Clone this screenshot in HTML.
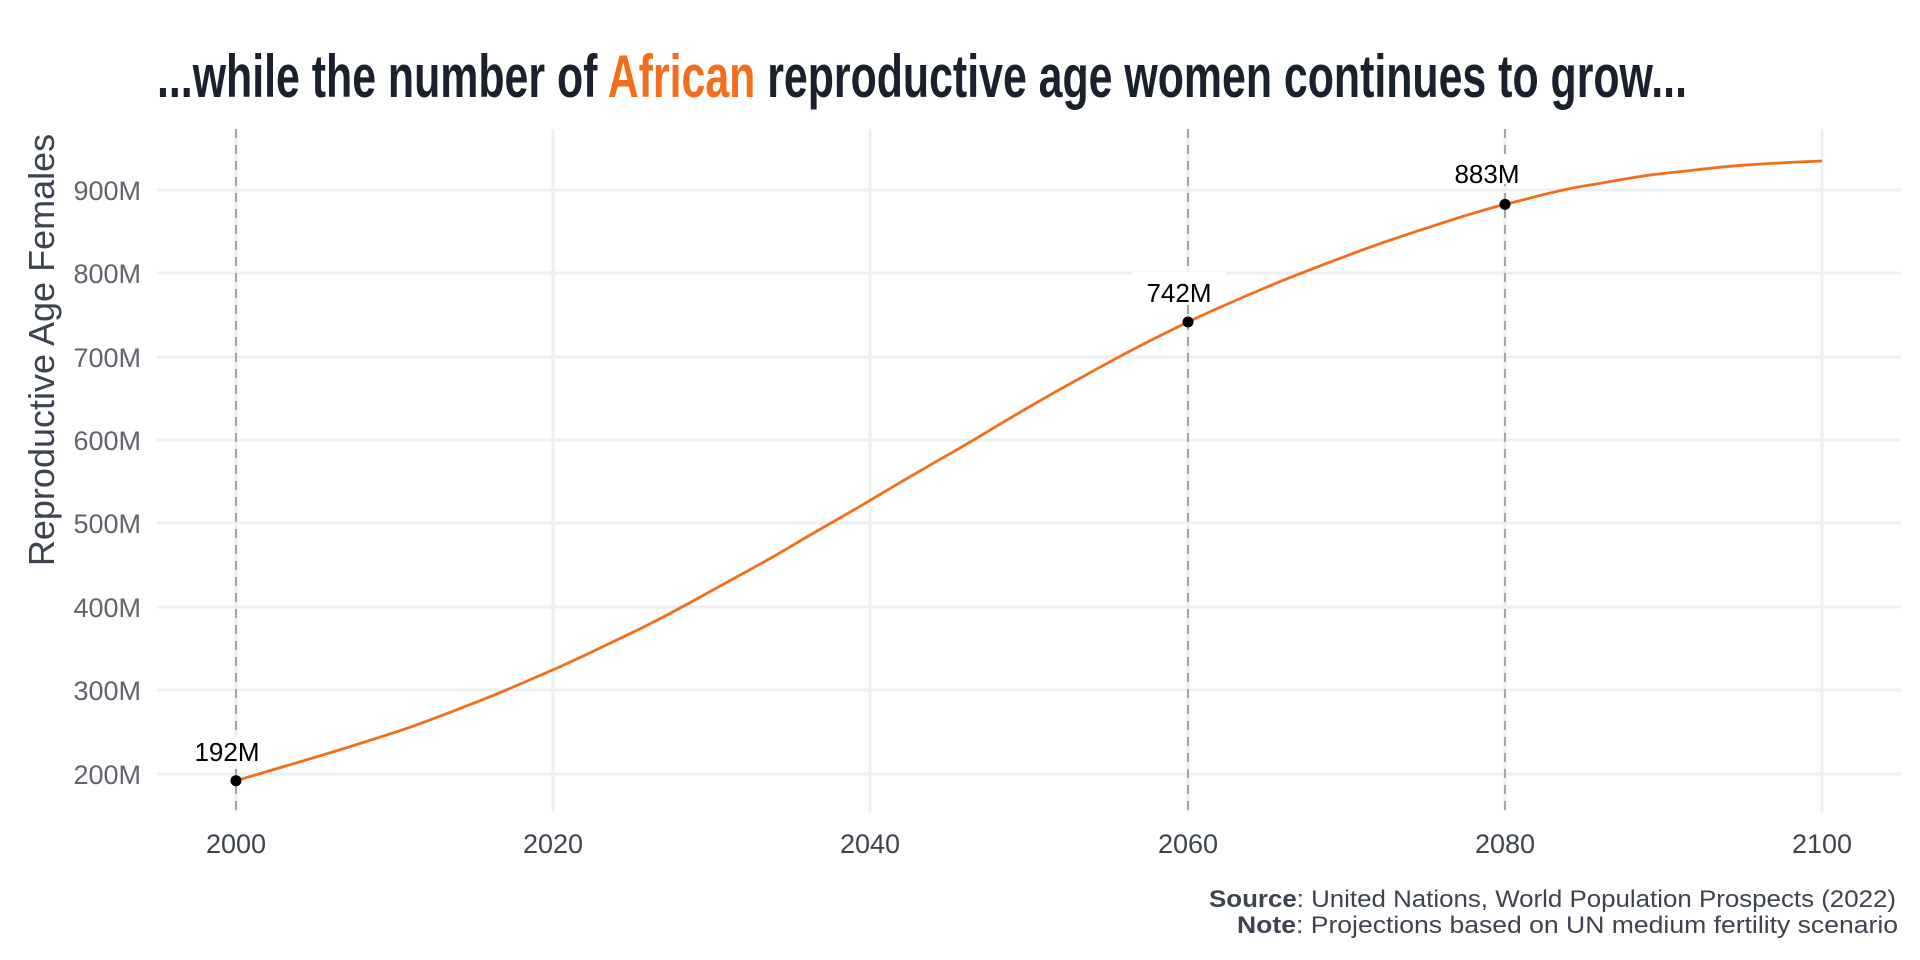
<!DOCTYPE html>
<html><head><meta charset="utf-8"><style>
html,body{margin:0;padding:0;background:#fff;width:1920px;height:960px;overflow:hidden}
</style></head><body>
<svg width="1920" height="960" viewBox="0 0 1920 960" xmlns="http://www.w3.org/2000/svg">
<g stroke="#eeeff1" stroke-width="3">
<line x1="157" x2="1901" y1="190" y2="190"/>
<line x1="157" x2="1901" y1="273" y2="273"/>
<line x1="157" x2="1901" y1="357" y2="357"/>
<line x1="157" x2="1901" y1="440" y2="440"/>
<line x1="157" x2="1901" y1="523" y2="523"/>
<line x1="157" x2="1901" y1="607" y2="607"/>
<line x1="157" x2="1901" y1="690" y2="690"/>
<line x1="157" x2="1901" y1="774" y2="774"/>
<line x1="236" x2="236" y1="129" y2="812"/>
<line x1="553" x2="553" y1="129" y2="812"/>
<line x1="870" x2="870" y1="129" y2="812"/>
<line x1="1188" x2="1188" y1="129" y2="812"/>
<line x1="1505" x2="1505" y1="129" y2="812"/>
<line x1="1822" x2="1822" y1="129" y2="812"/>
</g>
<g stroke="#a6a6a6" stroke-width="2" stroke-dasharray="9 7">
<line x1="236" x2="236" y1="129" y2="812"/>
<line x1="1188" x2="1188" y1="129" y2="812"/>
<line x1="1505" x2="1505" y1="129" y2="812"/>
</g>
<text x="157" y="97" font-family="'Liberation Sans Narrow','Liberation Sans',sans-serif" font-size="60" font-weight="bold" fill="#1a202c" textLength="1530" lengthAdjust="spacingAndGlyphs">...while the number of <tspan fill="#f26e1d">African</tspan> reproductive age women continues to grow...</text>
<g font-family="'Liberation Sans',sans-serif" font-size="27" fill="#60646c" text-anchor="end">
<text x="141" y="200">900M</text>
<text x="141" y="283">800M</text>
<text x="141" y="367">700M</text>
<text x="141" y="450">600M</text>
<text x="141" y="533">500M</text>
<text x="141" y="617">400M</text>
<text x="141" y="700">300M</text>
<text x="141" y="784">200M</text>
</g>
<g font-family="'Liberation Sans',sans-serif" font-size="27" fill="#3d4450" text-anchor="middle">
<text x="236" y="853">2000</text>
<text x="553" y="853">2020</text>
<text x="870" y="853">2040</text>
<text x="1188" y="853">2060</text>
<text x="1505" y="853">2080</text>
<text x="1822" y="853">2100</text>
</g>
<text transform="translate(54,350) rotate(-90)" font-family="'Liberation Sans',sans-serif" font-size="36" fill="#3d4450" text-anchor="middle">Reproductive Age Females</text>
<path fill="none" stroke="#f26e1d" stroke-width="2.8" stroke-linejoin="round" d="M236,780.7 C262,773 289,765 315,757.3 S368,741 395,732.3 S448,713 474,703.1 S527,681 553,669.8 S606,645 633,632.2 S686,605 712,590.5 S765,562 791,546.3 S844,516 870,500.4 S923,469 950,453.7 S1003,422 1029,407 S1082,377 1108,362.8 S1161,335 1188,322 S1241,298 1267,287 S1320,266 1346,256.1 S1399,237 1425,228.6 S1478,211 1505,204.4 S1558,190 1584,186 S1637,176 1663,173.5 S1716,167 1743,165.2 S1796,162 1822,161"/>
<g fill="#000">
<circle cx="236" cy="780.7" r="5.5"/>
<circle cx="1188" cy="322" r="5.5"/>
<circle cx="1505" cy="204.4" r="5.5"/>
</g>
<g font-family="'Liberation Sans',sans-serif" font-size="26" fill="#000" text-anchor="middle">
<rect x="180" y="735" width="94" height="30" fill="#fff"/>
<text x="227" y="761">192M</text>
<rect x="1132" y="272" width="94" height="30" fill="#fff"/>
<text x="1179" y="302">742M</text>
<rect x="1440" y="154" width="94" height="30" fill="#fff"/>
<text x="1487" y="183">883M</text>
</g>
<g font-family="'Liberation Sans Narrow','Liberation Sans',sans-serif" font-size="24" fill="#3d4450" text-anchor="end">
<text x="1896" y="907" textLength="687" lengthAdjust="spacingAndGlyphs"><tspan font-weight="bold">Source</tspan>: United Nations, World Population Prospects (2022)</text>
<text x="1898" y="933" textLength="661" lengthAdjust="spacingAndGlyphs"><tspan font-weight="bold">Note</tspan>: Projections based on UN medium fertility scenario</text>
</g>
</svg>
</body></html>
